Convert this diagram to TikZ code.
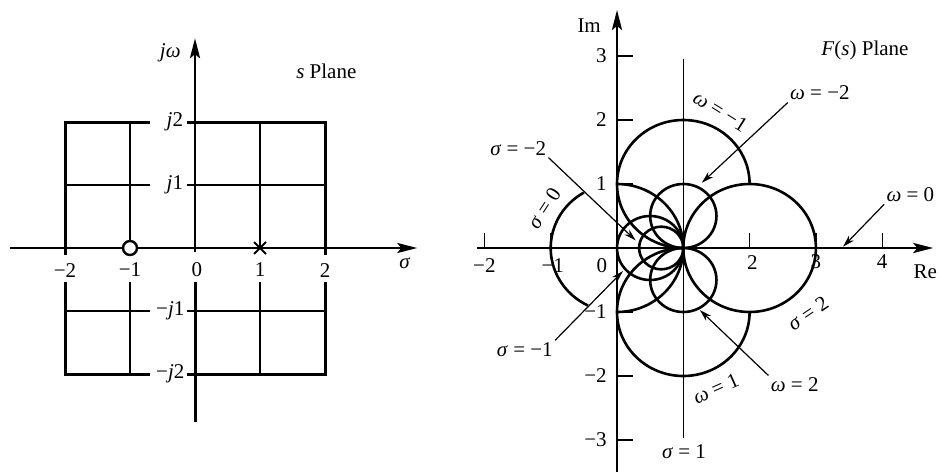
\documentclass[tikz,border=0pt]{standalone}
\usepackage{fontspec}
\setmainfont{Liberation Serif}
\usetikzlibrary{arrows.meta,shapes.misc}

\begin{document}
\begin{tikzpicture}[x=0.5pt,y=-0.5pt,
    every node/.style={font=\fontsize{10.5}{12}\selectfont,inner sep=1pt},
    axisline/.style={line width=1.4pt,-{Stealth[length=10pt,width=5pt,inset=2pt]}},
    frameline/.style={line width=1.5pt},
    gridline/.style={line width=0.7pt},
    curve/.style={line width=1.3pt},
    leader/.style={line width=0.6pt,-{Stealth[length=6pt,width=3.5pt]}}]
\useasboundingbox (0,0) rectangle (941,471);

% s plane
\begin{scope}[shift={(195,248)},x=32.5pt,y=31.5pt]
  % outer frame
  \draw[frameline] (-0.7,2) -- (-2,2) -- (-2,-0.11);
  \draw[frameline] (-2,-0.54) -- (-2,-2) -- (-0.7,-2);
  \draw[frameline] (0,2) -- (2,2) -- (2,-0.11);
  \draw[frameline] (2,-0.54) -- (2,-2) -- (0,-2);
  % inner grid
  \draw[gridline] (-2,1) -- (-0.7,1) (0,1) -- (2,1);
  \draw[gridline] (-2,-1) -- (-0.7,-1) (0,-1) -- (2,-1);
  \draw[gridline] (-1,2) -- (-1,0) (-1,-0.54) -- (-1,-2);
  \draw[gridline] (1,2) -- (1,0) (1,-0.54) -- (1,-2);
  % ticks on j axis
  \draw[frameline] (-0.12,2) -- (0,2) (-0.12,-2) -- (0,-2);
  \draw[gridline] (-0.12,1) -- (0,1) (-0.12,-1) -- (0,-1);
  % axes
  \draw[axisline] (-2.85,0) -- (3.42,0);
  \draw[axisline] (0,-0.06) -- (0,3.33);
  \draw[frameline] (0,-0.54) -- (0,-2.76);
  % zero and pole
  \node (zero) [circle,draw,fill=white,line width=1.2pt,minimum size=7pt,inner sep=0pt] at (-1,0) {};
  \node (pole) [cross out,draw,line width=1pt,minimum size=5pt,inner sep=0pt] at (1,0) {};
  % labels
  \node (sig) at (3.23,-0.24) {\textit{σ}};
  \node (jw) at (-0.38,3.1) {\textit{jω}};
  \node (splane) at (2.02,2.81) {\textit{s} Plane};
  \node (sm2) at (-2,-0.35) {−2};
  \node (sm1) at (-1,-0.35) {−1};
  \node (s0) at (0.03,-0.35) {0};
  \node (s1) at (1,-0.35) {1};
  \node (s2) at (2,-0.35) {2};
  \node (jp2) at (-0.31,2) {\textit{j}2};
  \node (jp1) at (-0.31,1) {\textit{j}1};
  \node (jm1) at (-0.38,-1) {−\textit{j}1};
  \node (jm2) at (-0.38,-2) {−\textit{j}2};
\end{scope}

% F(s) plane
\begin{scope}[shift={(617,248)},x=33.15pt,y=32pt]
  % axes
  \draw[axisline] (-2.11,0) -- (4.77,0);
  \draw[axisline] (0,-3.5) -- (0,3.72);
  % sigma = 1
  \draw[gridline] (1,-2.97) -- (1,2.95);
  % ticks
  \foreach \k in {-3,-2,-1,1,2,3}
    \draw[gridline] (0,\k) -- (0.24,\k);
  \foreach \k in {-2,-1,2,3,4}
    \draw[gridline] (\k,0) -- (\k,0.23);
  % sigma = 0
  \draw[curve] (0:1) arc[start angle=0,end angle=90,radius=1];
  \draw[curve] (120:1) arc[start angle=120,end angle=244,radius=1];
  \draw[curve] (270:1) arc[start angle=270,end angle=360,radius=1];
  % omega = -1 and omega = 1
  \draw[curve] (2,1) arc[start angle=0,end angle=270,radius=1];
  \draw[curve] (1,0) arc[start angle=90,end angle=360,radius=1];
  % sigma = 2
  \draw[curve] (2,0) circle[radius=1];
  % omega = -2 and omega = 2
  \draw[curve] (1,0.5) circle[radius=0.5];
  \draw[curve] (1,-0.5) circle[radius=0.5];
  % sigma = -1 and sigma = -2
  \draw[curve] (0.5,0) circle[radius=0.5];
  \draw[curve] (0.6667,0) circle[radius=0.3333];
  % axis labels
  \node (im) at (-0.42,3.48) {Im};
  \node (re) at (4.65,-0.37) {Re};
  \node (fplane) at (3.74,3.08) {\textit{F}(\textit{s}) Plane};
  \node (fy3) [anchor=east] at (-0.12,3) {3};
  \node (fy2) [anchor=east] at (-0.12,2) {2};
  \node (fy1) [anchor=east] at (-0.12,1) {1};
  \node (fym1) [anchor=east] at (-0.12,-1) {−1};
  \node (fym2) [anchor=east] at (-0.12,-2) {−2};
  \node (fym3) [anchor=east] at (-0.12,-3) {−3};
  \node (fxm2) at (-2,-0.28) {−2};
  \node (fxm1) at (-0.97,-0.27) {−1};
  \node (fx0) at (-0.23,-0.27) {0};
  \node (fx2) at (2.04,-0.22) {2};
  \node (fx3) at (3.0,-0.22) {3};
  \node (fx4) at (4.0,-0.22) {4};
  % curve labels
  \node (lwm1) [rotate=-32] at (1.56,2.14) {\textit{ω} = −1};
  \node (ls0) [rotate=57] at (-1.1,0.62) {\textit{σ} = 0};
  \node (ls2) [rotate=34] at (2.88,-1.02) {\textit{σ} = 2};
  \node (lw1) [rotate=24] at (1.49,-2.2) {\textit{ω} = 1};
  \node (ls1) at (1.01,-3.19) {\textit{σ} = 1};
  % labels with leaders
  \coordinate (twm2) at (1.28,1.02);
  \coordinate (tw0) at (3.41,0.02);
  \coordinate (tsm2) at (0.28,0.12);
  \coordinate (tsm1) at (0.09,-0.36);
  \coordinate (tw2) at (1.25,-0.97);
  \node (lwm2) at (3.06,2.42) {\textit{ω} = −2};
  \node (lw0) [anchor=east] at (4.82,0.83) {\textit{ω} = 0};
  \node (lsm2) at (-1.49,1.56) {\textit{σ} = −2};
  \node (lsm1) at (-1.39,-1.59) {\textit{σ} = −1};
  \node (lw2) at (2.68,-2.14) {\textit{ω} = 2};
  \draw[leader] (lwm2.south west) -- (twm2);
  \draw[leader] (lw0.south west) -- (tw0);
  \draw[leader] (lsm2.south east) -- (tsm2);
  \draw[leader] (lsm1.north east) -- (tsm1);
  \draw[leader] (lw2.north west) -- (tw2);
\end{scope}
\end{tikzpicture}
\end{document}
